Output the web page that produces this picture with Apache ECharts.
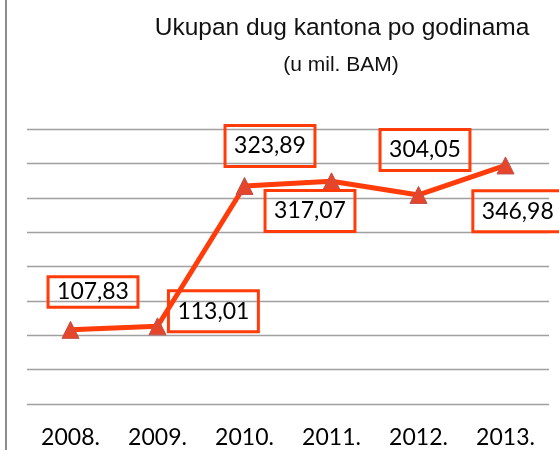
<!DOCTYPE html>
<html>
<head>
<meta charset="utf-8">
<script src="https://cdn.jsdelivr.net/npm/echarts@6/dist/echarts.min.js"></script>
<style>
html,body{margin:0;padding:0;background:#fff;}
#chart{width:559px;height:450px;}
</style>
</head>
<body>
<div id="chart"></div>
<script>
// ---- data ----
var titleText = 'Ukupan dug kantona po godinama';
var subtitleText = '(u mil. BAM)';
var categories = ['2008.', '2009.', '2010.', '2011.', '2012.', '2013.'];
var debtValues = [107.83, 113.01, 317.07, 323.89, 304.05, 346.98];
var yTicks = [0, 50, 100, 150, 200, 250, 300, 350, 400];

// ---- layout / style (not data) ----
var labelOffsets = [[22.5, -37.9], [55.9, -15.1], [65.5, 24.9], [-61.5, -35.4], [6.5, -45], [12.3, 45.9]];
var labelPaddings = [[13.6, 9, 0, 9], [8.5, 9, 8.5, 9], [8.5, 9, 8.5, 9], [8.5, 9, 8.5, 9], [8.5, 9, 8.5, 9], [8.5, 9, 8.5, 9]];
var labelLineHeights = [17, 24, 24, 24, 24, 24];

var lineColor = '#ff3c0a';

function fmt(v) { return v.toFixed(2).replace('.', ','); }

var seriesData = debtValues.map(function (v, i) {
  return {
    value: v,
    label: {
      offset: labelOffsets[i],
      padding: labelPaddings[i],
      lineHeight: labelLineHeights[i]
    }
  };
});

var chart = echarts.init(document.getElementById('chart'), null, {renderer: 'canvas'});
chart.setOption({
  animation: false,
  backgroundColor: '#ffffff',
  title: [
    {
      text: titleText, left: 337, top: 10.5, textAlign: 'center',
      textStyle: {fontFamily: 'Liberation Sans', fontSize: 24.5, fontWeight: 'normal', color: '#111'}
    },
    {
      text: subtitleText, left: 336, top: 49.5, textAlign: 'center',
      textStyle: {fontFamily: 'Liberation Sans', fontSize: 21, fontWeight: 'normal', color: '#111'}
    }
  ],
  graphic: [
    {type: 'rect', shape: {x: 5, y: 0, width: 2, height: 450}, style: {fill: '#8c8c8c'}, silent: true}
  ],
  grid: {left: 27, right: 10, top: 129, bottom: 46, containLabel: false},
  xAxis: {
    type: 'category',
    data: categories,
    boundaryGap: true,
    axisLine: {show: false},
    axisTick: {show: false},
    axisLabel: {fontFamily: 'Lato', fontSize: 23, color: '#000', margin: 22}
  },
  yAxis: {
    type: 'value',
    min: yTicks[0],
    max: yTicks[yTicks.length - 1],
    interval: yTicks[1] - yTicks[0],
    axisLine: {show: false},
    axisTick: {show: false},
    axisLabel: {show: false},
    splitLine: {show: true, lineStyle: {color: '#a0a0a0', width: 1.3}}
  },
  series: [{
    type: 'line',
    data: seriesData,
    symbol: 'triangle',
    symbolSize: [17, 17],
    showAllSymbol: true,
    lineStyle: {color: lineColor, width: 5},
    itemStyle: {color: '#e5452a', borderColor: '#c0504d', borderWidth: 1},
    label: {
      show: true,
      position: 'inside',
      formatter: function (p) { return fmt(p.value); },
      fontFamily: 'Lato',
      fontSize: 23,
      color: '#000',
      borderColor: lineColor,
      borderWidth: 1.5,
      backgroundColor: 'transparent'
    },
    emphasis: {disabled: true}
  }]
});
</script>
</body>
</html>
